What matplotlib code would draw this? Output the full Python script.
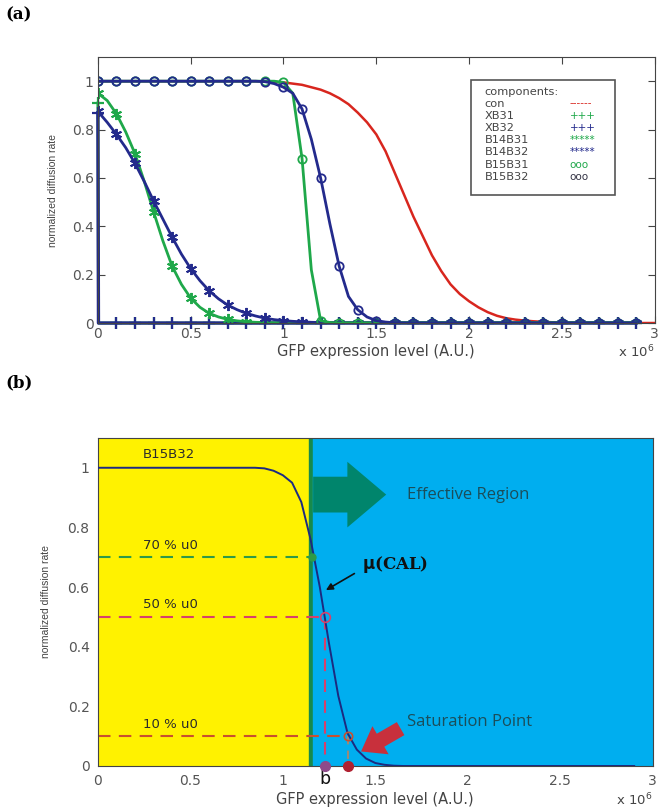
import numpy as np
import matplotlib
matplotlib.use('Agg')
import matplotlib.pyplot as plt
from matplotlib.patches import Rectangle, FancyArrow, FancyArrowPatch

# GFP expression level, units of 10^6 (curves every 0.05, markers every 0.1)
x_fine = np.round(np.arange(59) * 0.05, 2)    # 0 .. 2.9
x_con = np.round(np.arange(61) * 0.05, 2)     # 0 .. 3.0
x_xb = np.r_[0.0, 0.003, np.round(np.arange(1, 30) * 0.1, 1)]

con = [1.0] * 18 + [0.999, 0.997, 0.995, 0.99, 0.985, 0.975, 0.965, 0.95, 0.93, 0.905,
                    0.87, 0.83, 0.78, 0.71, 0.62, 0.53, 0.44, 0.36, 0.28, 0.215, 0.16,
                    0.12, 0.09, 0.065, 0.045, 0.03, 0.02, 0.014, 0.01, 0.007, 0.005,
                    0.003, 0.002] + [0.0] * 10
xb31 = [0.91, 0.0] + [0.0] * 29
xb32 = [0.87, 0.0] + [0.0] * 29
b14b31 = [0.95, 0.92, 0.865, 0.79, 0.70, 0.585, 0.46, 0.34, 0.235, 0.16, 0.103, 0.065,
          0.04, 0.025, 0.015, 0.009, 0.005, 0.003, 0.002, 0.001] + [0.0] * 39
b14b32 = [0.875, 0.83, 0.78, 0.725, 0.66, 0.585, 0.505, 0.43, 0.355, 0.285, 0.225, 0.175,
          0.133, 0.1, 0.074, 0.055, 0.04, 0.029, 0.02, 0.014, 0.01, 0.007, 0.005, 0.003,
          0.002, 0.001] + [0.0] * 33
b15b31 = [1.0] * 20 + [0.995, 0.95, 0.68, 0.22, 0.01, 0.002] + [0.0] * 33
b15b32 = [1.0] * 18 + [0.998, 0.99, 0.975, 0.95, 0.885, 0.76, 0.60, 0.41, 0.235, 0.11,
                       0.055, 0.025, 0.01, 0.004, 0.001] + [0.0] * 26

legend_names = ['con', 'XB31', 'XB32', 'B14B31', 'B14B32', 'B15B31', 'B15B32']
legend_samples = ['------', '+++', '+++', '*****', '*****', 'ooo', 'ooo']

# panel (b) annotations
levels = [0.7, 0.5, 0.1]
level_x = [1.16, 1.23, 1.35]
level_labels = ['70 % u0', '50 % u0', '10 % u0']
effective_start = 1.14

RED = '#d8261e'
GREEN = '#1fa84a'
BLUE = '#232a8c'
TICK = '#555555'
ast = (6, 2, 0)

fig = plt.figure(figsize=(6.66, 8.11), dpi=100)

# ---------------- (a) ----------------
ax = fig.add_axes([0.147, 0.6017, 0.836, 0.328])
ax.plot(x_con, con, color=RED, lw=1.8)
ax.plot(x_xb, xb31, color=GREEN, lw=2, marker='+', ms=8, mew=1.6,
        markevery=[0] + list(range(2, 31)), clip_on=False)
ax.plot(x_xb, xb32, color=BLUE, lw=2.4, marker='+', ms=8, mew=1.6,
        markevery=[0] + list(range(2, 31)), clip_on=False)
ax.plot(x_fine, b14b31, color=GREEN, lw=2, marker=ast, ms=8, mew=1.4, markevery=2)
ax.plot(x_fine, b14b32, color=BLUE, lw=2, marker=ast, ms=8, mew=1.4, markevery=2)
ax.plot(x_fine, b15b31, color=GREEN, lw=2, marker='o', ms=6, mfc='none', mew=1.3, markevery=2)
ax.plot(x_fine, b15b32, color=BLUE, lw=2, marker='o', ms=6, mfc='none', mew=1.3, markevery=2)

ax.set_xlim(0, 3)
ax.set_ylim(0, 1.1)
ax.set_xticks([0, 0.5, 1, 1.5, 2, 2.5, 3])
ax.set_xticklabels(['0', '0.5', '1', '1.5', '2', '2.5', '3'])
ax.set_yticks([0, 0.2, 0.4, 0.6, 0.8, 1])
ax.set_yticklabels(['0', '0.2', '0.4', '0.6', '0.8', '1'])
ax.tick_params(direction='in', length=5, top=True, right=True, labelsize=10,
               labelcolor=TICK, color='#444444', pad=3)
for s in ax.spines.values():
    s.set_color('#444444')
ax.set_xlabel('GFP expression level (A.U.)', fontsize=10.5, color='#444444', labelpad=2)
ax.set_ylabel('normalized diffusion rate', fontsize=7.5, family='Liberation Sans',
              color='#444444', labelpad=10)
ax.text(0.966, -0.11, r'x 10$^6$', transform=ax.transAxes, ha='center', va='center',
        fontsize=9.5, color='#444444')

# text legend
ax.add_patch(Rectangle((0.671, 0.481), 0.257, 0.433, transform=ax.transAxes,
                       fill=False, ec='#555555', lw=1.2))
ax.text(0.695, 0.868, 'components:', transform=ax.transAxes, fontsize=8.2,
        color='#444444', va='center')
row_y = [0.825, 0.778, 0.733, 0.688, 0.643, 0.593, 0.548]
sample_colors = [RED, GREEN, BLUE, GREEN, BLUE, GREEN, '#333344']
for name, sample, yy, c in zip(legend_names, legend_samples, row_y, sample_colors):
    ax.text(0.695, yy, name, transform=ax.transAxes, fontsize=8.2, color='#444444', va='center')
    ax.text(0.847, yy, sample, transform=ax.transAxes, fontsize=7.5, color=c, va='center')

fig.text(0.008, 0.982, '(a)', fontsize=12, fontweight='bold', family='DejaVu Serif', va='center')

# ---------------- (b) ----------------
bx = fig.add_axes([0.147, 0.0555, 0.833, 0.4045])
bx.axvspan(0, effective_start, color='#fff200', zorder=0)
bx.axvspan(effective_start, effective_start + 0.024, color='#178a4c', zorder=0)
bx.axvspan(effective_start + 0.024, 3, color='#00aeef', zorder=0)

bx.plot(x_fine, b15b32, color='#1c2a80', lw=1.4, zorder=3)

level_colors = ['#2e9a48', '#d8406a', '#c8502e']
for lv, lx, lab, c in zip(levels, level_x, level_labels, level_colors):
    bx.plot([0, lx], [lv, lv], color=c, lw=1.5, ls=(0, (6, 4)), zorder=2)
    bx.text(0.245, lv + 0.04, lab, fontsize=9.5, color='#2b2b2b', va='center')
bx.plot(level_x[0], levels[0], 'o', color='#2e9a48', ms=5, zorder=4)
bx.plot([level_x[1]] * 2, [levels[1], 0], color='#d8406a', lw=1.5, ls=(0, (6, 4)), zorder=2)
bx.plot(level_x[1], levels[1], 'o', mfc='none', mec='#d8406a', ms=7, mew=1.2, zorder=4)
bx.plot([level_x[2]] * 2, [levels[2], 0], color='#9a8a78', lw=1.5, ls=(0, (4, 3)), zorder=2)
bx.plot(level_x[2], levels[2], 'o', mfc='none', mec='#c8502e', ms=6, mew=1.2, zorder=4)
bx.plot(level_x[1], 0, 'o', color='#8e4a8a', ms=7, clip_on=False, zorder=5)
bx.plot(level_x[2], 0, 'o', color='#b02030', ms=7, clip_on=False, zorder=5)

bx.text(0.245, 1.044, 'B15B32', fontsize=9.5, color='#2b2b2b', va='center')

bx.add_patch(FancyArrow(effective_start + 0.024, 0.91, 0.395, 0, width=0.12, head_width=0.22,
                        head_length=0.21, length_includes_head=True, color='#00856c', lw=0))
bx.text(1.67, 0.91, 'Effective Region', fontsize=12, family='Open Sans', color='#1b4e5a',
        va='center')
bx.text(1.43, 0.674, r'$\mathbf{\mu}$(CAL)', fontsize=12, family='DejaVu Serif',
        fontweight='bold', color='#111111', va='center')
bx.add_patch(FancyArrowPatch((1.40, 0.65), (1.22, 0.585), arrowstyle='-|>',
                             mutation_scale=10, color='#111111', lw=1.2))
bx.text(1.67, 0.148, 'Saturation Point', fontsize=12, family='Open Sans', color='#1b4e5a',
        va='center')
bx.add_patch(FancyArrowPatch((1.65, 0.13), (1.41, 0.044),
                             arrowstyle='simple,head_width=1.3,head_length=0.9,tail_width=0.6',
                             mutation_scale=18, color='#c8303c', lw=0))

bx.set_xlim(0, 3)
bx.set_ylim(0, 1.1)
bx.set_xticks([0, 0.5, 1, 1.5, 2, 2.5, 3])
bx.set_xticklabels(['0', '0.5', '1', '1.5', '2', '2.5', '3'])
bx.set_yticks([0, 0.2, 0.4, 0.6, 0.8, 1])
bx.set_yticklabels(['0', '0.2', '0.4', '0.6', '0.8', '1'])
bx.tick_params(length=0, labelsize=10, labelcolor=TICK, pad=6)
for s in bx.spines.values():
    s.set_color('#444444')
bx.text(level_x[1], -0.045, 'b', fontsize=12.5, color='#111111', ha='center', va='center')
bx.set_xlabel('GFP expression level (A.U.)', fontsize=10.5, color='#444444', labelpad=3)
bx.set_ylabel('normalized diffusion rate', fontsize=7.5, family='Liberation Sans',
              color='#444444', labelpad=12)
bx.text(0.966, -0.105, r'x 10$^6$', transform=bx.transAxes, ha='center', va='center',
        fontsize=9.5, color='#444444')

fig.text(0.008, 0.528, '(b)', fontsize=12, fontweight='bold', family='DejaVu Serif', va='center')

fig.savefig('out.png', dpi=100)
